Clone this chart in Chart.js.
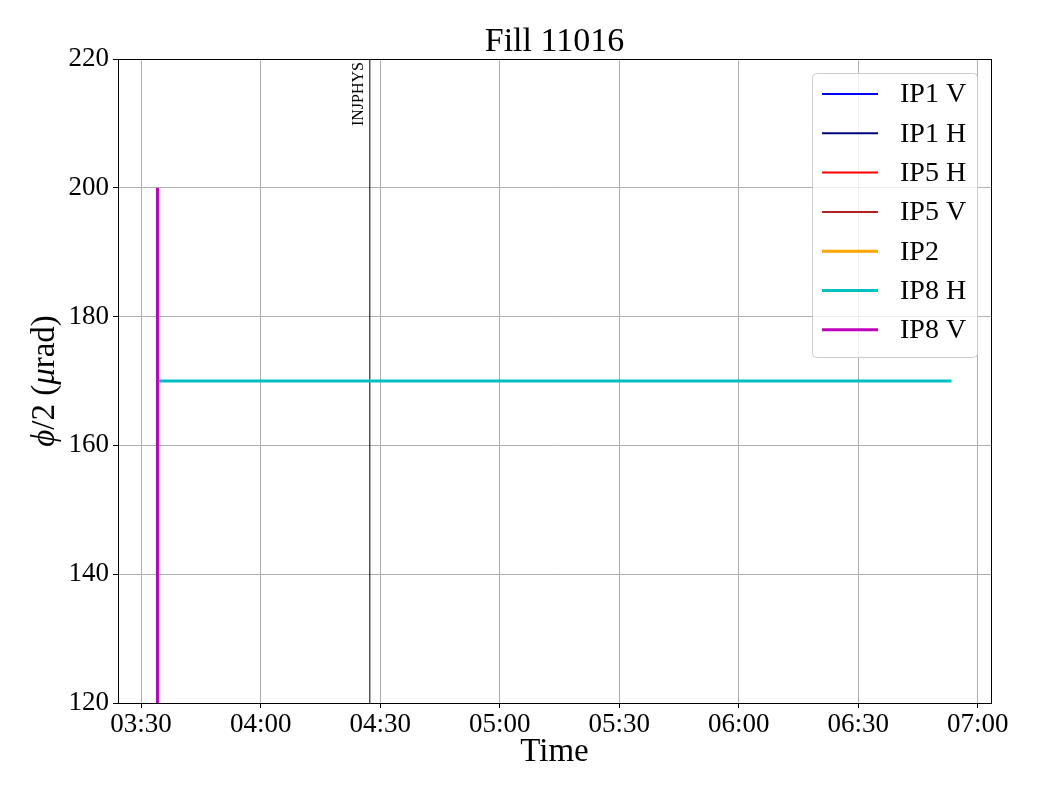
<!DOCTYPE html>
<html>
<head>
<meta charset="utf-8">
<script src="https://cdn.jsdelivr.net/npm/chart.js@4.4.1/dist/chart.umd.min.js"></script>
<style>
html,body{margin:0;padding:0;background:#fff;}
#wrap{width:1040px;height:800px;}
</style>
</head>
<body>
<div id="wrap"><canvas id="c" width="1040" height="800"></canvas></div>
<script>
// Time values are minutes after midnight
const xTickValues = [210, 240, 270, 300, 330, 360, 390, 420];
const yTickValues = [120, 140, 160, 180, 200, 220];
const seriesNames = ['IP1 V', 'IP1 H', 'IP5 H', 'IP5 V', 'IP2', 'IP8 H', 'IP8 V'];
const seriesColors = ['#0000ff', '#000080', '#ff0000', '#b22222', '#ffa500', '#00bfbf', '#bf00bf'];
const seriesWidths = [2, 2, 2, 2, 3, 3, 3];
const ip1vTimes = [], ip1vValues = [];
const ip1hTimes = [], ip1hValues = [];
const ip5hTimes = [], ip5hValues = [];
const ip5vTimes = [], ip5vValues = [];
const ip2Times = [], ip2Values = [];
const ip8hTimes = [214.5, 413.4];
const ip8hValues = [170, 170];
const ip8vTimes = [214.1, 214.1];
const ip8vValues = [200, 0];
const markerTime = 267.4;
const markerLabel = 'INJPHYS';
const chartTitle = 'Fill 11016';
const xTitle = 'Time';
const xMin = 204.2, xMax = 423.3;
const yMin = 120, yMax = 220;

const FONT = "'Liberation Serif', 'Times New Roman', serif";

function pts(t, v) { return t.map((x, i) => ({x: x, y: v[i]})); }
const allTimes = [ip1vTimes, ip1hTimes, ip5hTimes, ip5vTimes, ip2Times, ip8hTimes, ip8vTimes];
const allValues = [ip1vValues, ip1hValues, ip5hValues, ip5vValues, ip2Values, ip8hValues, ip8vValues];

const datasets = seriesNames.map((n, i) => ({
  label: n,
  data: pts(allTimes[i], allValues[i]),
  borderColor: seriesColors[i],
  backgroundColor: seriesColors[i],
  borderWidth: seriesWidths[i],
  pointRadius: 0,
  fill: false,
  tension: 0,
  order: seriesNames.length - i
}));
datasets.push({
  label: markerLabel,
  data: [{x: markerTime, y: yMin}, {x: markerTime, y: yMax}],
  borderColor: '#000000',
  borderWidth: 1,
  pointRadius: 0,
  fill: false,
  order: 10
});

function fmt(v) {
  const h = Math.floor(v / 60), m = Math.round(v - h * 60);
  return String(h).padStart(2, '0') + ':' + String(m).padStart(2, '0');
}

const framePlugin = {
  id: 'frame',
  afterDraw(chart) {
    const ctx = chart.ctx, a = chart.chartArea;
    ctx.save();
    ctx.strokeStyle = '#000';
    ctx.lineWidth = 1;
    ctx.strokeRect(Math.round(a.left) + 0.5, Math.round(a.top) + 0.5, Math.round(a.right - a.left), Math.round(a.bottom - a.top));
    ctx.restore();

    // chart title and x title
    const cx = (a.left + a.right) / 2;
    ctx.save();
    ctx.fillStyle = '#000';
    ctx.textAlign = 'center';
    ctx.textBaseline = 'middle';
    ctx.font = '34px ' + FONT;
    ctx.fillText(chartTitle, cx, 42);
    ctx.font = '33px ' + FONT;
    ctx.fillText(xTitle, cx, 752);
    ctx.restore();

    // y title with italic symbols
    ctx.save();
    ctx.fillStyle = '#000';
    ctx.translate(45, (a.top + a.bottom) / 2);
    ctx.rotate(-Math.PI / 2);
    ctx.textBaseline = 'middle';
    ctx.textAlign = 'left';
    const parts = [['ϕ', true], ['/2 (', false], ['μ', true], ['rad)', false]];
    const fN = '33px ' + FONT, fI = 'italic 33px ' + FONT;
    let total = 0;
    parts.forEach(p => { ctx.font = p[1] ? fI : fN; total += ctx.measureText(p[0]).width; });
    let x0 = -total / 2;
    parts.forEach(p => { ctx.font = p[1] ? fI : fN; ctx.fillText(p[0], x0, 0); x0 += ctx.measureText(p[0]).width; });
    ctx.restore();

    // marker label
    ctx.save();
    const px = chart.scales.x.getPixelForValue(markerTime);
    ctx.fillStyle = '#000';
    ctx.font = '16px ' + FONT;
    ctx.translate(px - 3, a.top + 3);
    ctx.rotate(-Math.PI / 2);
    ctx.textAlign = 'right';
    ctx.textBaseline = 'bottom';
    ctx.fillText(markerLabel, 0, 0);
    ctx.restore();

    // legend
    ctx.save();
    const lx = 812, ly = 73, lw = 165, lh = 284;
    ctx.fillStyle = 'rgba(255,255,255,0.8)';
    ctx.strokeStyle = '#cccccc';
    ctx.lineWidth = 1;
    ctx.beginPath();
    if (ctx.roundRect) ctx.roundRect(lx + 0.5, ly + 0.5, lw, lh, 4); else ctx.rect(lx + 0.5, ly + 0.5, lw, lh);
    ctx.fill();
    ctx.stroke();
    ctx.font = '28px ' + FONT;
    ctx.textBaseline = 'middle';
    ctx.textAlign = 'left';
    seriesNames.forEach((n, i) => {
      const y = 94 + i * 39.3;
      ctx.strokeStyle = seriesColors[i];
      ctx.lineWidth = seriesWidths[i];
      ctx.beginPath();
      ctx.moveTo(822, y);
      ctx.lineTo(878, y);
      ctx.stroke();
      ctx.fillStyle = '#000';
      ctx.fillText(n, 900, y + 1);
    });
    ctx.restore();
  }
};

new Chart(document.getElementById('c'), {
  type: 'line',
  data: {datasets: datasets},
  options: {
    responsive: false,
    animation: false,
    devicePixelRatio: 1,
    layout: {padding: {left: 0, right: 49, top: 59, bottom: 0}},
    plugins: {
      legend: {display: false},
      tooltip: {enabled: false},
      title: {display: false}
    },
    scales: {
      x: {
        type: 'linear',
        min: xMin,
        max: xMax,
        afterBuildTicks(s) { s.ticks = xTickValues.map(v => ({value: v})); },
        afterFit(s) { s.height = 97; },
        grid: {color: '#b0b0b0', lineWidth: 1, tickColor: '#000', tickLength: 5, drawTicks: true},
        border: {display: false},
        ticks: {
          color: '#000',
          font: {family: FONT, size: 27},
          padding: 1,
          maxRotation: 0,
          autoSkip: false,
          callback: v => fmt(v)
        },
        title: {display: false}
      },
      y: {
        type: 'linear',
        min: yMin,
        max: yMax,
        afterBuildTicks(s) { s.ticks = yTickValues.map(v => ({value: v})); },
        afterFit(s) { s.width = 118; },
        grid: {color: '#b0b0b0', lineWidth: 1, tickColor: '#000', tickLength: 5, drawTicks: true},
        border: {display: false},
        ticks: {
          color: '#000',
          font: {family: FONT, size: 27},
          padding: 4,
          autoSkip: false
        },
        title: {display: false}
      }
    }
  },
  plugins: [framePlugin]
});
</script>
</body>
</html>
